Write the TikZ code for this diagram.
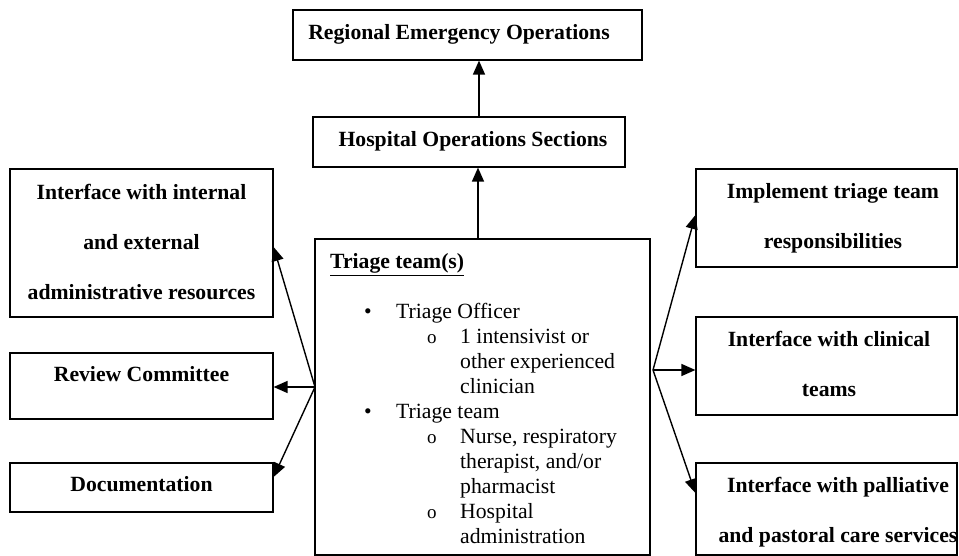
\documentclass[tikz,border=0pt]{standalone}
\usepackage{fontspec}
\setmainfont{Liberation Serif}
\usetikzlibrary{arrows.meta}
\newcommand{\subbul}{\makebox[33pt][l]{\fontsize{19}{25}\selectfont o}}
\begin{document}
\begin{tikzpicture}[x=1pt,y=-1pt,
  box/.style={draw, line width=1.2pt, inner sep=0pt, rectangle},
  lbl/.style={font=\fontsize{21.7}{50}\selectfont\bfseries, anchor=base, inner sep=0pt, align=center},
  plain/.style={font=\fontsize{21.7}{25}\selectfont, anchor=base west, inner sep=0pt, align=left},
  arr/.style={line width=1.4pt, -{Triangle[length=14pt,width=12pt]}}]
\useasboundingbox (0,0) rectangle (959,556);

% boxes
\node[box, minimum width=349pt, minimum height=50pt] (reo) at (467.5,35) {};
\node[box, minimum width=312pt, minimum height=50pt] (hos) at (469,142) {};
\node[box, minimum width=263pt, minimum height=148pt] (iface) at (141.5,243) {};
\node[box, minimum width=263pt, minimum height=66pt] (rev) at (141.5,386) {};
\node[box, minimum width=263pt, minimum height=49pt] (doc) at (141.5,487.5) {};
\node[box, minimum width=335pt, minimum height=316pt] (tri) at (482.5,397) {};
\node[box, minimum width=261pt, minimum height=98pt] (impl) at (826.5,218) {};
\node[box, minimum width=261pt, minimum height=98pt] (clin) at (826.5,366) {};
\node[box, minimum width=261pt, minimum height=92pt] (pall) at (826.5,509) {};

% texts (base anchor = baseline of last line)
\node[lbl] (reoT) at (459,40) {Regional Emergency Operations};
\node[lbl] (hosT) at (473,147) {Hospital Operations Sections};
\node[lbl] (ifaceT) at (141.5,299) {Interface with internal\\and external\\administrative resources};
\node[lbl] (revT) at (141.5,381) {Review Committee};
\node[lbl] (docT) at (141.5,491) {Documentation};
\node[lbl] (implT) at (833,249) {Implement triage team\\responsibilities};
\node[lbl] (clinT) at (829,396) {Interface with clinical\\teams};
\node[lbl] (pallT) at (838,542) {Interface with palliative\\and pastoral care services};

\node[lbl, anchor=base west] (triT) at (330,269) {\underline{Triage team(s)}};
\node[plain] (triL) at (364,543) {%
\makebox[32pt][l]{\textbullet}Triage Officer\\
\hspace*{63pt}\subbul 1 intensivist or\\
\hspace*{96pt}other experienced\\
\hspace*{96pt}clinician\\
\makebox[32pt][l]{\textbullet}Triage team\\
\hspace*{63pt}\subbul Nurse, respiratory\\
\hspace*{96pt}therapist, and/or\\
\hspace*{96pt}pharmacist\\
\hspace*{63pt}\subbul Hospital\\
\hspace*{96pt}administration};

% connector points
\coordinate (ax1) at (479,0);
\coordinate (ax2) at (478,0);
\coordinate (lh) at (315,387);
\coordinate (rh) at (653,370);
\coordinate (le1) at (0,247);
\coordinate (le3) at (0,477);
\coordinate (re1) at (0,215);
\coordinate (re3) at (0,493);

% connectors
\draw[arr] (hos.north -| ax1) -- (reo.south -| ax1);
\draw[arr] (tri.north -| ax2) -- (hos.south -| ax2);
\draw[arr] (lh) -- (iface.east |- le1);
\draw[arr] (lh) -- (rev.east |- lh);
\draw[arr] (lh) -- (doc.east |- le3);
\draw[arr] (rh) -- (impl.west |- re1);
\draw[arr] (rh) -- (clin.west |- rh);
\draw[arr] (rh) -- (pall.west |- re3);
\end{tikzpicture}
\end{document}
